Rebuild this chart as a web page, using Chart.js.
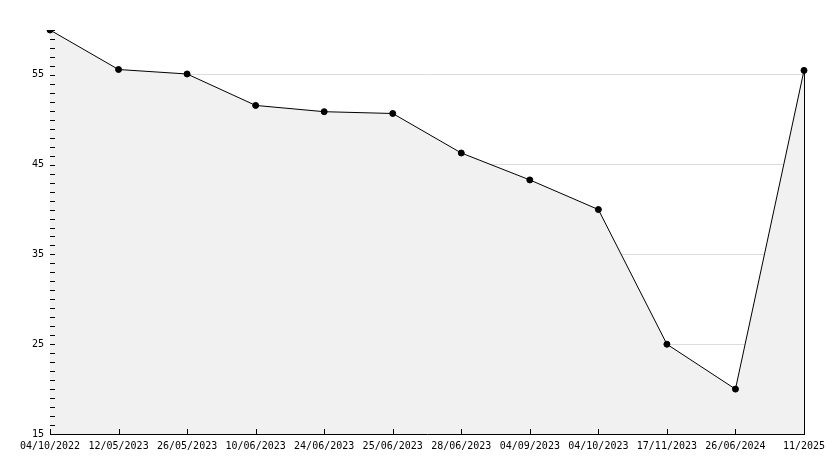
<!DOCTYPE html>
<html><head><meta charset="utf-8">
<script src="https://cdn.jsdelivr.net/npm/chart.js@4"></script>
<style>body{margin:0;background:#fff}#wrap{width:834px;height:468px}</style>
</head><body><div id="wrap"><canvas id="c"></canvas></div>
<script>
const dateLabels = ['04/10/2022','12/05/2023','26/05/2023','10/06/2023','24/06/2023','25/06/2023','28/06/2023','04/09/2023','04/10/2023','17/11/2023','26/06/2024','11/2025'];
const values = [60, 55.6, 55.1, 51.6, 50.9, 50.7, 46.3, 43.3, 40.0, 25.0, 20.0, 55.5];
const yMin = 15, yMax = 60;

const font = {family:'"DejaVu Sans Mono", monospace', size:10};

// ticks drawn inward + right border line
const innerTicks = {
  id:'innerTicks',
  afterDraw(chart){
    const ctx = chart.ctx, a = chart.chartArea;
    const x = chart.scales.x, y = chart.scales.y;
    ctx.save();
    ctx.strokeStyle = '#000'; ctx.lineWidth = 1;
    ctx.beginPath();
    for(let v=yMin; v<=yMax; v++){
      const py = Math.round(y.getPixelForValue(v))+0.5;
      ctx.moveTo(a.left, py); ctx.lineTo(a.left+5, py);
    }
    for(let i=0;i<dateLabels.length;i++){
      const px = Math.round(x.getPixelForValue(i))+0.5;
      ctx.moveTo(px, a.bottom); ctx.lineTo(px, a.bottom-5);
    }
    const rx = Math.round(a.right)+0.5;
    ctx.moveTo(rx, y.getPixelForValue(values[values.length-1])); ctx.lineTo(rx, a.bottom);
    ctx.stroke();
    ctx.restore();
  }
};

new Chart(document.getElementById('c'), {
  type:'line',
  data:{labels:dateLabels, datasets:[{
    data:values,
    borderColor:'#000', borderWidth:1,
    backgroundColor:'#f1f1f1', fill:'origin',
    pointBackgroundColor:'#000', pointBorderColor:'#000',
    pointRadius:3, pointStyle:'circle', tension:0
  }]},
  options:{
    responsive:true, maintainAspectRatio:false, animation:false,
    layout:{padding:{top:30, right:30, bottom:10, left:0}},
    plugins:{legend:{display:false}, tooltip:{enabled:false}},
    scales:{
      x:{
        offset:false,
        grid:{drawOnChartArea:false, drawTicks:false},
        border:{color:'#000'},
        ticks:{font, color:'#000', maxRotation:0, autoSkip:false, padding:6}
      },
      y:{
        min:yMin, max:yMax,
        afterFit(s){ s.width = 50; },
        grid:{drawTicks:false, color:c=>c.tick.value%5===0 && c.tick.value!==yMin ? '#dcdcdc' : 'rgba(0,0,0,0)'},
        border:{color:'#000'},
        ticks:{font, color:'#000', stepSize:1, padding:6,
          callback:v=>v%5===0 ? v : ''}
      }
    }
  },
  plugins:[innerTicks]
});
</script></body></html>
